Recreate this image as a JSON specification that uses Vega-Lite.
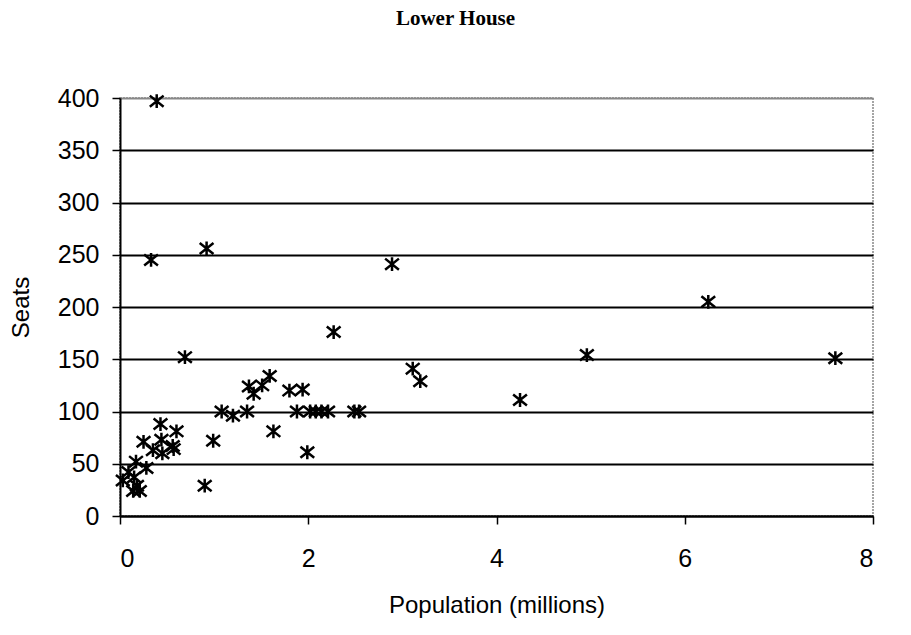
{
  "$schema": "https://vega.github.io/schema/vega-lite/v6.json",
  "autosize": "none",
  "width": 753,
  "height": 418,
  "padding": {"left": 120, "top": 98, "right": 38, "bottom": 119},
  "background": "white",
  "title": {
    "text": "Lower House",
    "font": "Liberation Serif",
    "fontSize": 21,
    "fontWeight": "bold",
    "color": "black",
    "anchor": "middle",
    "baseline": "alphabetic",
    "offset": 40,
    "dx": -41
  },
  "config": {
    "view": {"stroke": "#888888", "strokeWidth": 1.5, "strokeDash": [2, 1]},
    "axis": {
      "labelFont": "Liberation Sans",
      "titleFont": "Liberation Sans",
      "labelFontSize": 25,
      "titleFontSize": 24,
      "titleFontWeight": "normal",
      "labelColor": "black",
      "titleColor": "black",
      "domainColor": "black",
      "domainWidth": 2,
      "tickColor": "black",
      "tickWidth": 1.5,
      "tickSize": 8
    }
  },
  "data": {
    "values": [
      {"pop": 0.39, "seats": 397},
      {"pop": 0.33, "seats": 245},
      {"pop": 0.92, "seats": 256},
      {"pop": 2.89, "seats": 241},
      {"pop": 0.69, "seats": 152},
      {"pop": 2.27, "seats": 176},
      {"pop": 3.11, "seats": 141},
      {"pop": 3.19, "seats": 129},
      {"pop": 4.96, "seats": 154},
      {"pop": 4.25, "seats": 111},
      {"pop": 6.25, "seats": 205},
      {"pop": 7.6, "seats": 151},
      {"pop": 0.9, "seats": 29},
      {"pop": 0.99, "seats": 72},
      {"pop": 1.99, "seats": 61},
      {"pop": 1.63, "seats": 81},
      {"pop": 1.59, "seats": 134},
      {"pop": 1.37, "seats": 124},
      {"pop": 1.51, "seats": 125},
      {"pop": 1.42, "seats": 117},
      {"pop": 1.8, "seats": 120},
      {"pop": 1.94, "seats": 121},
      {"pop": 1.08, "seats": 100},
      {"pop": 1.2, "seats": 96},
      {"pop": 1.35, "seats": 100},
      {"pop": 1.88, "seats": 100},
      {"pop": 2.02, "seats": 100},
      {"pop": 2.08, "seats": 100},
      {"pop": 2.14, "seats": 100},
      {"pop": 2.21, "seats": 100},
      {"pop": 2.49, "seats": 100},
      {"pop": 2.54, "seats": 100},
      {"pop": 0.43, "seats": 88},
      {"pop": 0.6, "seats": 81},
      {"pop": 0.25, "seats": 71},
      {"pop": 0.44, "seats": 73},
      {"pop": 0.35, "seats": 63},
      {"pop": 0.45, "seats": 60},
      {"pop": 0.56, "seats": 67},
      {"pop": 0.57, "seats": 64},
      {"pop": 0.17, "seats": 52},
      {"pop": 0.28, "seats": 46},
      {"pop": 0.09, "seats": 42},
      {"pop": 0.15, "seats": 37},
      {"pop": 0.03, "seats": 34},
      {"pop": 0.18, "seats": 29},
      {"pop": 0.14, "seats": 24},
      {"pop": 0.21, "seats": 24}
    ]
  },
  "mark": {
    "type": "point",
    "shape": "M-1,-0.8L1,0.8M-1,0.8L1,-0.8M0,-1L0,1",
    "filled": false,
    "stroke": "black",
    "strokeWidth": 2.5,
    "size": 190,
    "opacity": 1
  },
  "encoding": {
    "x": {
      "field": "pop",
      "type": "quantitative",
      "scale": {"domain": [0, 8], "nice": false, "zero": true},
      "axis": {
        "title": "Population (millions)",
        "values": [0, 2, 4, 6, 8],
        "format": "d",
        "grid": false,
        "labelPadding": 22,
        "titlePadding": 22
      }
    },
    "y": {
      "field": "seats",
      "type": "quantitative",
      "scale": {"domain": [0, 400], "nice": false},
      "axis": {
        "title": "Seats",
        "values": [0, 50, 100, 150, 200, 250, 300, 350, 400],
        "grid": true,
        "gridColor": {"condition": {"test": "datum.value >= 400", "value": "#888888"}, "value": "black"},
        "gridWidth": 2,
        "labelPadding": 13,
        "titlePadding": 24
      }
    }
  }
}
